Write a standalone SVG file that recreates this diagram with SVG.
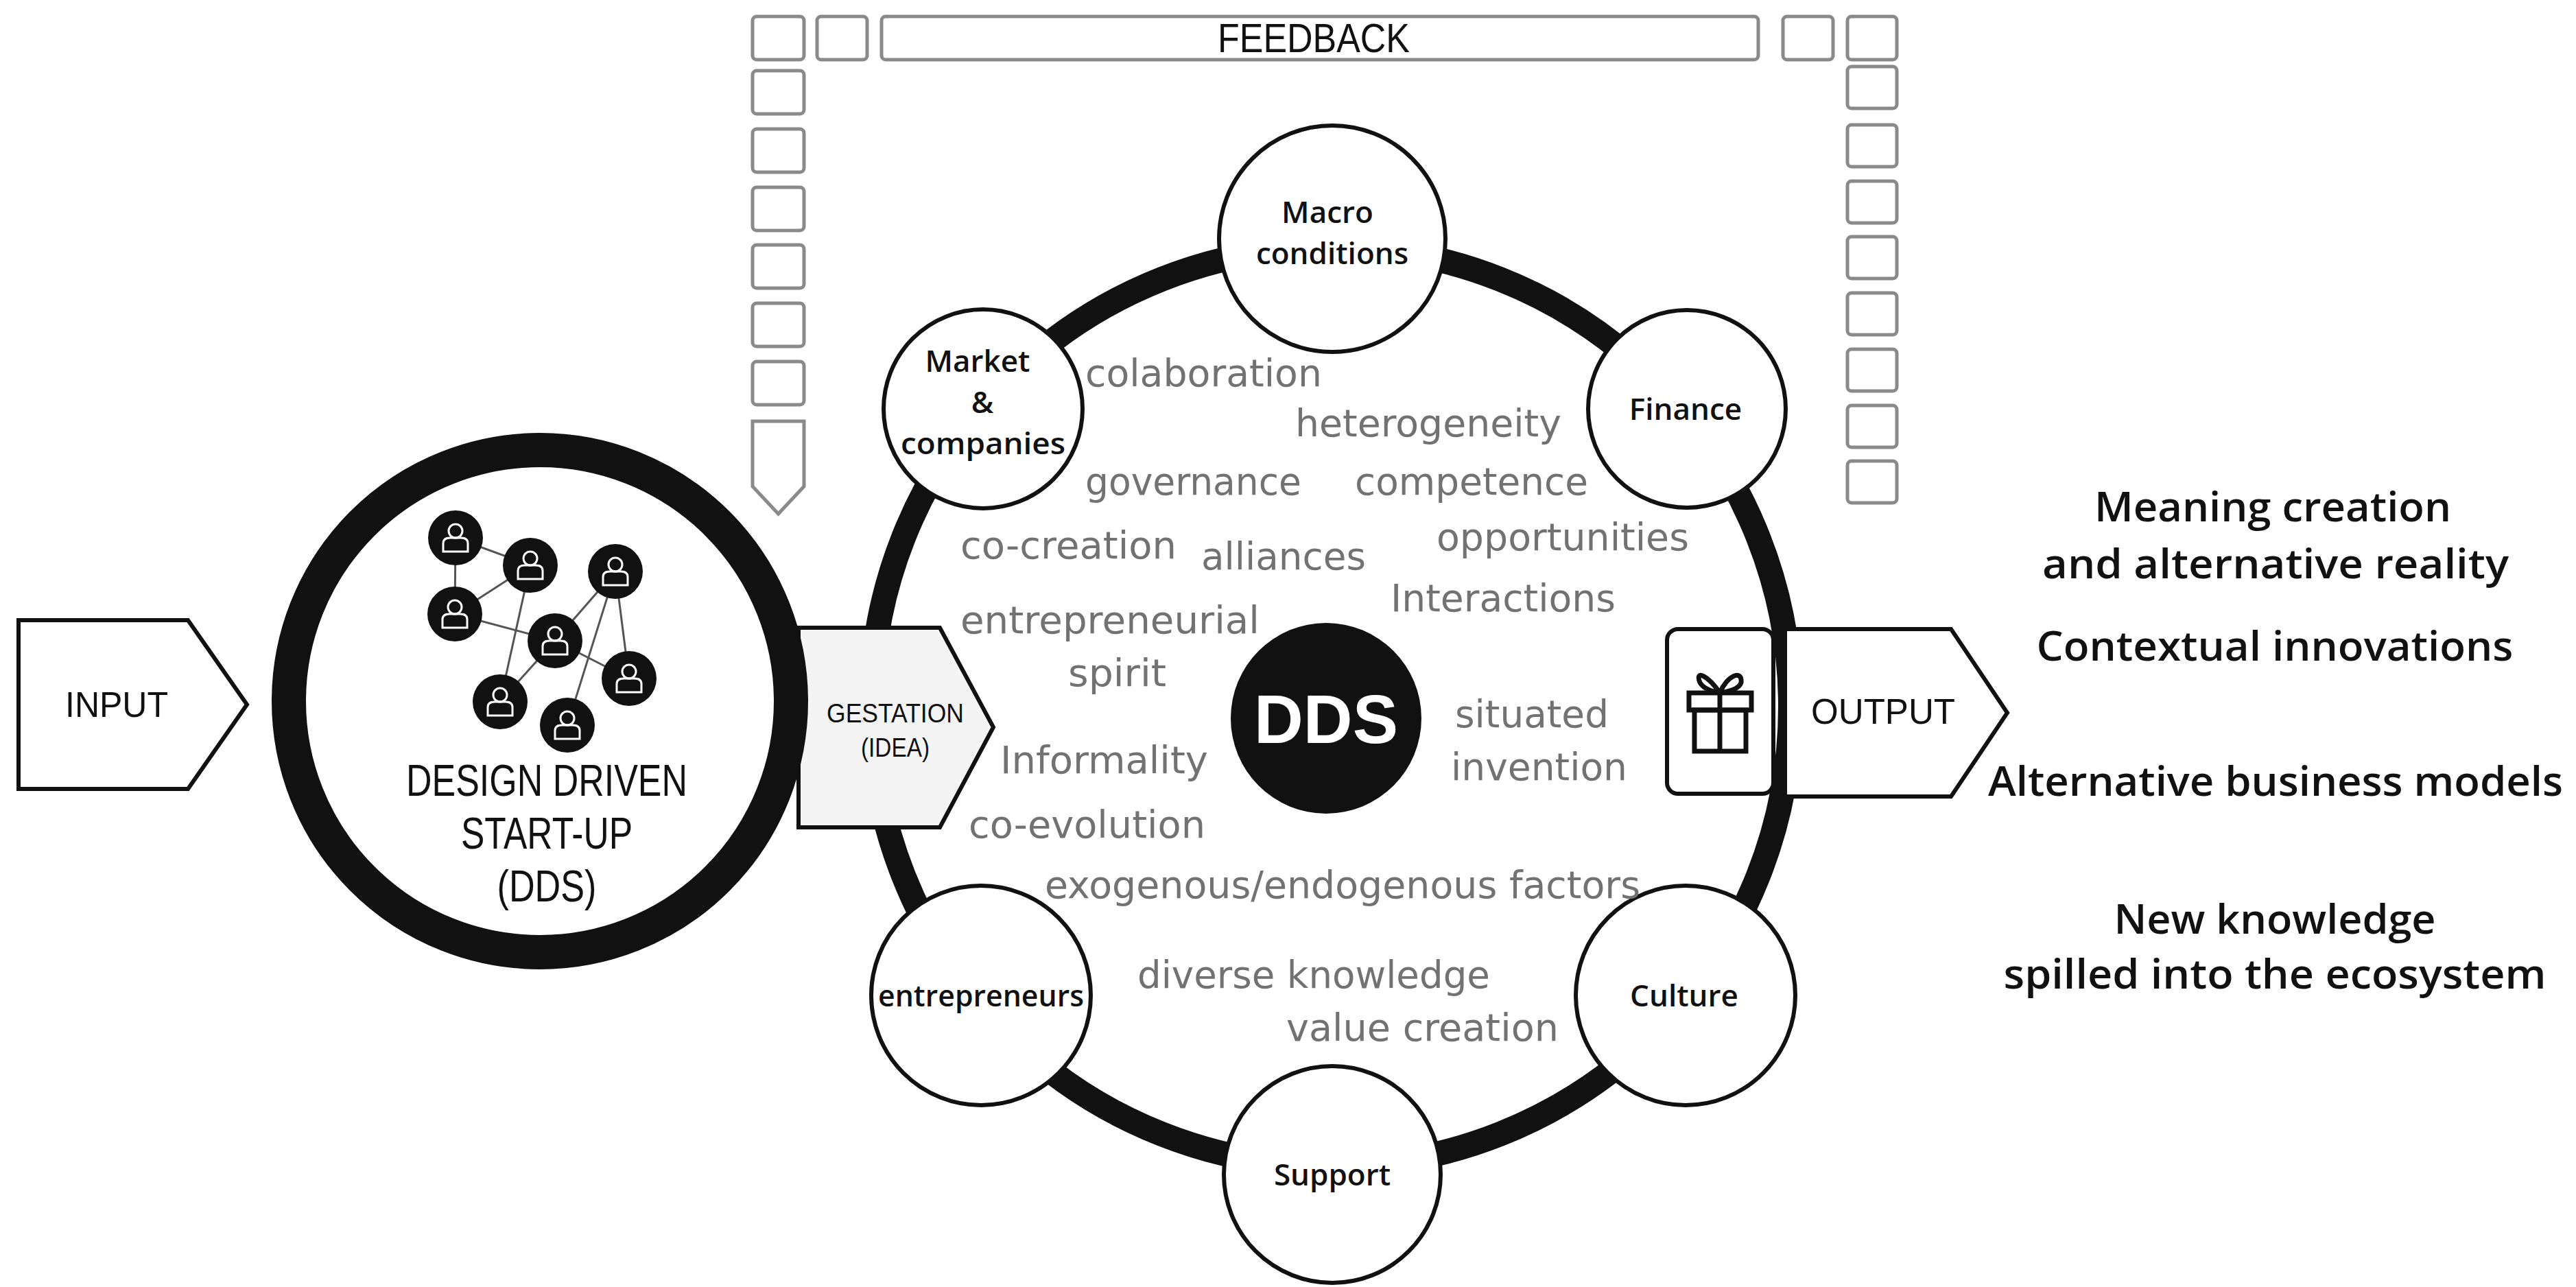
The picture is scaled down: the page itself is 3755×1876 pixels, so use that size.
<svg xmlns="http://www.w3.org/2000/svg" width="3755" height="1876" viewBox="0 0 3755 1876">
<style>
.fb{fill:#fff;stroke:#8a8a8a;stroke-width:5}
.sat{fill:#fff;stroke:#111;stroke-width:6}
.sl{font-family:"Open Sans","Liberation Sans",Arial,sans-serif;font-size:44px;font-weight:600;fill:#111;text-anchor:middle}
.gw{font-family:"DejaVu Sans","Liberation Sans",sans-serif;font-size:56px;fill:#727272}
.rt{font-family:"Open Sans","DejaVu Sans",sans-serif;font-size:60px;font-weight:600;fill:#111;text-anchor:middle}
.bl{font-family:"Liberation Sans",Arial,sans-serif;fill:#111;text-anchor:middle}
.lnk{stroke:#555;stroke-width:3}
</style>
<rect width="3755" height="1876" fill="#fff"/>
<g id="feedback">
<rect class="fb" x="1097" y="24" width="75" height="63" rx="6"/>
<rect class="fb" x="1191" y="24" width="73" height="63" rx="6"/>
<rect class="fb" x="1285" y="24" width="1278" height="63" rx="6"/>
<rect class="fb" x="2599" y="24" width="73" height="63" rx="6"/>
<rect class="fb" x="2693" y="24" width="72" height="63" rx="6"/>
<rect class="fb" x="1097" y="103" width="75" height="63" rx="6"/>
<rect class="fb" x="1097" y="188" width="75" height="63" rx="6"/>
<rect class="fb" x="1097" y="273" width="75" height="63" rx="6"/>
<rect class="fb" x="1097" y="357" width="75" height="63" rx="6"/>
<rect class="fb" x="1097" y="442" width="75" height="63" rx="6"/>
<rect class="fb" x="1097" y="527" width="75" height="63" rx="6"/>
<path class="fb" d="M1097 614 H1172 V709 L1134.5 749 L1097 709 Z"/>
<rect class="fb" x="2693" y="97" width="72" height="61" rx="6"/>
<rect class="fb" x="2693" y="182" width="72" height="61" rx="6"/>
<rect class="fb" x="2693" y="264" width="72" height="61" rx="6"/>
<rect class="fb" x="2693" y="345" width="72" height="61" rx="6"/>
<rect class="fb" x="2693" y="427" width="72" height="61" rx="6"/>
<rect class="fb" x="2693" y="509" width="72" height="61" rx="6"/>
<rect class="fb" x="2693" y="591" width="72" height="61" rx="6"/>
<rect class="fb" x="2693" y="672" width="72" height="61" rx="6"/>
<text class="bl" x="1915" y="76" font-size="60" textLength="280" lengthAdjust="spacingAndGlyphs">FEEDBACK</text>
</g>
<g id="input">
<path d="M27 904 H274 L360 1027 L274 1150 H27 Z" fill="#fff" stroke="#111" stroke-width="6"/>
<text class="bl" x="170" y="1045" font-size="52" textLength="150" lengthAdjust="spacingAndGlyphs">INPUT</text>
</g>
<g id="ring">
<circle cx="1940" cy="1030" r="670" fill="none" stroke="#111" stroke-width="36"/>
</g>
<g id="gestation">
<path d="M1164 915 H1370 L1448 1060 L1370 1206 H1164 Z" fill="#f4f4f4" stroke="#111" stroke-width="6"/>
<text class="bl" x="1305" y="1053" font-size="38" textLength="200" lengthAdjust="spacingAndGlyphs">GESTATION</text>
<text class="bl" x="1305" y="1103" font-size="38" textLength="100" lengthAdjust="spacingAndGlyphs">(IDEA)</text>
</g>
<g id="dds-startup">
<circle cx="787" cy="1022" r="366" fill="#fff" stroke="#111" stroke-width="50"/>
<g class="lnk">
<line x1="664" y1="784" x2="773" y2="824"/>
<line x1="664" y1="784" x2="663" y2="895"/>
<line x1="773" y1="824" x2="663" y2="895"/>
<line x1="773" y1="824" x2="729" y2="1023"/>
<line x1="663" y1="895" x2="809" y2="934"/>
<line x1="809" y1="934" x2="897" y2="833"/>
<line x1="809" y1="934" x2="917" y2="989"/>
<line x1="809" y1="934" x2="729" y2="1023"/>
<line x1="897" y1="833" x2="827" y2="1057"/>
<line x1="897" y1="833" x2="917" y2="989"/>
</g>
<defs>
<g id="person">
<circle r="40" fill="#111"/>
<circle cx="0" cy="-10" r="10" fill="none" stroke="#fff" stroke-width="3"/>
<path d="M-18 20 V8 Q-18 0 -8 0 H8 Q18 0 18 8 V20 Z" fill="none" stroke="#fff" stroke-width="3"/>
</g>
</defs>
<use href="#person" x="664" y="784"/>
<use href="#person" x="773" y="824"/>
<use href="#person" x="897" y="833"/>
<use href="#person" x="663" y="895"/>
<use href="#person" x="809" y="934"/>
<use href="#person" x="917" y="989"/>
<use href="#person" x="729" y="1023"/>
<use href="#person" x="827" y="1057"/>
<text class="bl" x="797" y="1160" font-size="64" textLength="410" lengthAdjust="spacingAndGlyphs">DESIGN DRIVEN</text>
<text class="bl" x="797" y="1237" font-size="64" textLength="250" lengthAdjust="spacingAndGlyphs">START-UP</text>
<text class="bl" x="797" y="1314" font-size="64" textLength="145" lengthAdjust="spacingAndGlyphs">(DDS)</text>
</g>
<g id="dds-core">
<circle cx="1933" cy="1047" r="139" fill="#111"/>
<text class="bl" x="1933" y="1083" font-size="100" font-weight="bold" style="fill:#fff" textLength="210" lengthAdjust="spacingAndGlyphs">DDS</text>
</g>
<g id="macro"><circle class="sat" cx="1942" cy="348" r="165"/>
<text class="sl" x="1935" y="325">Macro</text><text class="sl" x="1942" y="385">conditions</text></g>
<g id="market"><circle class="sat" cx="1433" cy="596" r="145"/>
<text class="sl" x="1425" y="542">Market</text><text class="sl" x="1432" y="602">&amp;</text><text class="sl" x="1433" y="662" textLength="240" lengthAdjust="spacingAndGlyphs">companies</text></g>
<g id="finance"><circle class="sat" cx="2459" cy="596" r="144"/>
<text class="sl" x="2457" y="612">Finance</text></g>
<g id="entrepreneurs"><circle class="sat" cx="1430" cy="1451" r="160"/>
<text class="sl" x="1430" y="1467" textLength="300" lengthAdjust="spacingAndGlyphs">entrepreneurs</text></g>
<g id="culture"><circle class="sat" cx="2457" cy="1451" r="160"/>
<text class="sl" x="2455" y="1467">Culture</text></g>
<g id="support"><circle class="sat" cx="1942" cy="1712" r="158"/>
<text class="sl" x="1942" y="1728">Support</text></g>
<g id="words">
<text class="gw" x="1582" y="563" textLength="345" lengthAdjust="spacingAndGlyphs">colaboration</text>
<text class="gw" x="1888" y="636" textLength="388" lengthAdjust="spacingAndGlyphs">heterogeneity</text>
<text class="gw" x="1582" y="721" textLength="315" lengthAdjust="spacingAndGlyphs">governance</text>
<text class="gw" x="1975" y="721" textLength="340" lengthAdjust="spacingAndGlyphs">competence</text>
<text class="gw" x="1400" y="814" textLength="315" lengthAdjust="spacingAndGlyphs">co-creation</text>
<text class="gw" x="1751" y="830" textLength="240" lengthAdjust="spacingAndGlyphs">alliances</text>
<text class="gw" x="2094" y="802" textLength="368" lengthAdjust="spacingAndGlyphs">opportunities</text>
<text class="gw" x="2027" y="891" textLength="328" lengthAdjust="spacingAndGlyphs">Interactions</text>
<text class="gw" x="1400" y="923" textLength="436" lengthAdjust="spacingAndGlyphs">entrepreneurial</text>
<text class="gw" x="1557" y="1000" textLength="143" lengthAdjust="spacingAndGlyphs">spirit</text>
<text class="gw" x="1458" y="1127" textLength="303" lengthAdjust="spacingAndGlyphs">Informality</text>
<text class="gw" x="1412" y="1221" textLength="345" lengthAdjust="spacingAndGlyphs">co-evolution</text>
<text class="gw" x="2121" y="1060" textLength="224" lengthAdjust="spacingAndGlyphs">situated</text>
<text class="gw" x="2115" y="1137" textLength="257" lengthAdjust="spacingAndGlyphs">invention</text>
<text class="gw" x="1523" y="1309" textLength="868" lengthAdjust="spacingAndGlyphs">exogenous/endogenous factors</text>
<text class="gw" x="1658" y="1440" textLength="514" lengthAdjust="spacingAndGlyphs">diverse knowledge</text>
<text class="gw" x="1875" y="1517" textLength="397" lengthAdjust="spacingAndGlyphs">value creation</text>
</g>
<g id="gift">
<rect x="2430" y="917" width="155" height="240" rx="16" fill="#fff" stroke="#111" stroke-width="6"/>
<g fill="none" stroke="#111" stroke-width="7">
<rect x="2470" y="1035" width="75" height="60"/>
<rect x="2462" y="1010" width="91" height="25"/>
<line x1="2507" y1="1010" x2="2507" y2="1095"/>
<path d="M2507 1010 C2490 985 2470 975 2478 995 C2484 1005 2497 1008 2507 1010 C2517 985 2540 975 2538 995 C2535 1005 2518 1008 2507 1010"/>
</g>
</g>
<g id="output">
<path d="M2602 917 H2844 L2926 1039 L2844 1161 H2602 Z" fill="#fff" stroke="#111" stroke-width="6"/>
<text class="bl" x="2745" y="1055" font-size="52" textLength="210" lengthAdjust="spacingAndGlyphs">OUTPUT</text>
</g>
<g id="outcomes">
<text class="rt" x="3313" y="760" textLength="520" lengthAdjust="spacingAndGlyphs">Meaning creation</text>
<text class="rt" x="3317" y="843" textLength="680" lengthAdjust="spacingAndGlyphs">and alternative reality</text>
<text class="rt" x="3316" y="963" textLength="695" lengthAdjust="spacingAndGlyphs">Contextual innovations</text>
<text class="rt" x="3317" y="1160" textLength="838" lengthAdjust="spacingAndGlyphs">Alternative business models</text>
<text class="rt" x="3316" y="1361" textLength="469" lengthAdjust="spacingAndGlyphs">New knowledge</text>
<text class="rt" x="3316" y="1441" textLength="791" lengthAdjust="spacingAndGlyphs">spilled into the ecosystem</text>
</g>
</svg>
